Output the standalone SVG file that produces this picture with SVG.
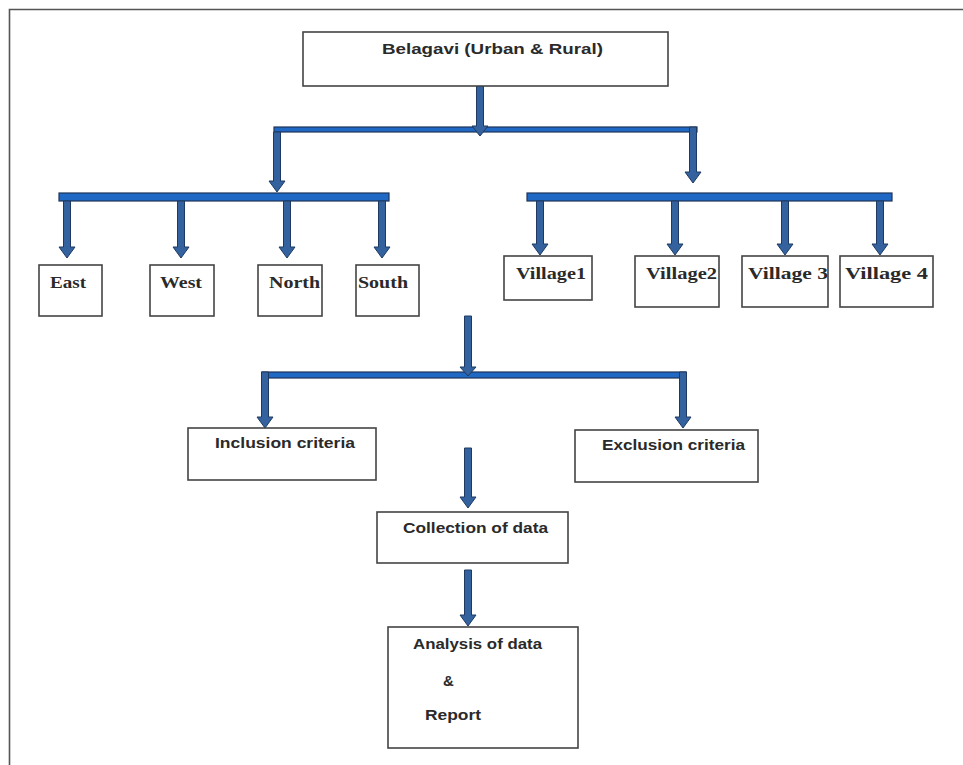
<svg xmlns="http://www.w3.org/2000/svg" width="963" height="765" viewBox="0 0 963 765">
<style>
.frame{stroke:#555;stroke-width:1.6;fill:none}
.box{fill:#fff;stroke:#444;stroke-width:1.6}
.arrow{fill:#33629e;stroke:#1e3a62;stroke-width:1}
.bar{fill:#1f68c4;stroke:#1e3559;stroke-width:1.2}
.sans{font-family:"Liberation Sans",Arial,sans-serif;font-weight:bold;font-size:15px;fill:#2a2a2a}
.serif{font-family:"Liberation Serif","Times New Roman",serif;font-weight:bold;font-size:17px;fill:#2a2a2a}
</style>
<rect width="963" height="765" fill="#fff"/>
<path class="frame" d="M9.5,765 V9.5 H963"/>

<g id="connectors">
  <rect class="bar" x="274" y="127" width="423" height="5"/>
  <rect class="bar" x="59" y="193" width="330" height="8"/>
  <rect class="bar" x="527" y="193" width="365" height="8"/>
  <rect class="bar" x="262" y="372" width="424" height="6"/>
  <path class="arrow" d="M476.5,86 V126 H472 L480,136 L488,126 H483.5 V86 Z"/>
  <path class="arrow" d="M273.5,132 V181 H269 L277,192 L285,181 H280.5 V132 Z"/>
  <path class="arrow" d="M689.5,127 V172 H685 L693,183 L701,172 H696.5 V127 Z"/>
  <path class="arrow" d="M63.5,201 V247 H59 L67,258 L75,247 H70.5 V201 Z"/>
  <path class="arrow" d="M177.5,201 V247 H173 L181,258 L189,247 H184.5 V201 Z"/>
  <path class="arrow" d="M283.5,201 V247 H279 L287,258 L295,247 H290.5 V201 Z"/>
  <path class="arrow" d="M378.5,201 V247 H374 L382,258 L390,247 H385.5 V201 Z"/>
  <path class="arrow" d="M536.5,201 V244 H532 L540,255 L548,244 H543.5 V201 Z"/>
  <path class="arrow" d="M671.5,201 V244 H667 L675,255 L683,244 H678.5 V201 Z"/>
  <path class="arrow" d="M781.5,201 V244 H777 L785,255 L793,244 H788.5 V201 Z"/>
  <path class="arrow" d="M876.5,201 V244 H872 L880,255 L888,244 H883.5 V201 Z"/>
  <path class="arrow" d="M464.5,316 V367 H460 L468,376 L476,367 H471.5 V316 Z"/>
  <path class="arrow" d="M261.5,372 V417 H257 L265,428 L273,417 H268.5 V372 Z"/>
  <path class="arrow" d="M679.5,372 V417 H675 L683,428 L691,417 H686.5 V372 Z"/>
  <path class="arrow" d="M464.5,448 V497 H460 L468,508 L476,497 H471.5 V448 Z"/>
  <path class="arrow" d="M464.5,570 V615 H460 L468,626 L476,615 H471.5 V570 Z"/>
</g>

<g id="belagavi"><rect class="box" x="303" y="32" width="365" height="54"/><text class="sans" x="382" y="54" textLength="221" lengthAdjust="spacingAndGlyphs">Belagavi (Urban &amp; Rural)</text></g>

<g id="east"><rect class="box" x="39" y="265" width="63" height="51"/><text class="serif" x="50" y="288" textLength="36" lengthAdjust="spacingAndGlyphs">East</text></g>
<g id="west"><rect class="box" x="150" y="265" width="64" height="51"/><text class="serif" x="160" y="288" textLength="42" lengthAdjust="spacingAndGlyphs">West</text></g>
<g id="north"><rect class="box" x="258" y="265" width="64" height="51"/><text class="serif" x="269" y="288" textLength="51" lengthAdjust="spacingAndGlyphs">North</text></g>
<g id="south"><rect class="box" x="356" y="265" width="63" height="51"/><text class="serif" x="358" y="288" textLength="50" lengthAdjust="spacingAndGlyphs">South</text></g>

<g id="village1"><rect class="box" x="504" y="256" width="88" height="44"/><text class="serif" x="516" y="279" textLength="70" lengthAdjust="spacingAndGlyphs">Village1</text></g>
<g id="village2"><rect class="box" x="635" y="256" width="84" height="51"/><text class="serif" x="646" y="279" textLength="71" lengthAdjust="spacingAndGlyphs">Village2</text></g>
<g id="village3"><rect class="box" x="742" y="256" width="86" height="51"/><text class="serif" x="748" y="279" textLength="80" lengthAdjust="spacingAndGlyphs">Village 3</text></g>
<g id="village4"><rect class="box" x="840" y="256" width="93" height="51"/><text class="serif" x="845" y="279" textLength="83" lengthAdjust="spacingAndGlyphs">Village 4</text></g>

<g id="inclusion"><rect class="box" x="188" y="428" width="188" height="52"/><text class="sans" x="215" y="448" textLength="140" lengthAdjust="spacingAndGlyphs">Inclusion criteria</text></g>
<g id="exclusion"><rect class="box" x="575" y="430" width="183" height="52"/><text class="sans" x="602" y="450" textLength="143" lengthAdjust="spacingAndGlyphs">Exclusion criteria</text></g>

<g id="collection"><rect class="box" x="377" y="512" width="191" height="51"/><text class="sans" x="403" y="533" textLength="145" lengthAdjust="spacingAndGlyphs">Collection of data</text></g>

<g id="analysis"><rect class="box" x="388" y="627" width="190" height="121"/><text class="sans" x="413" y="649" textLength="129" lengthAdjust="spacingAndGlyphs">Analysis of data</text><text class="sans" x="443" y="686">&amp;</text><text class="sans" x="425" y="720" textLength="56" lengthAdjust="spacingAndGlyphs">Report</text></g>
</svg>
